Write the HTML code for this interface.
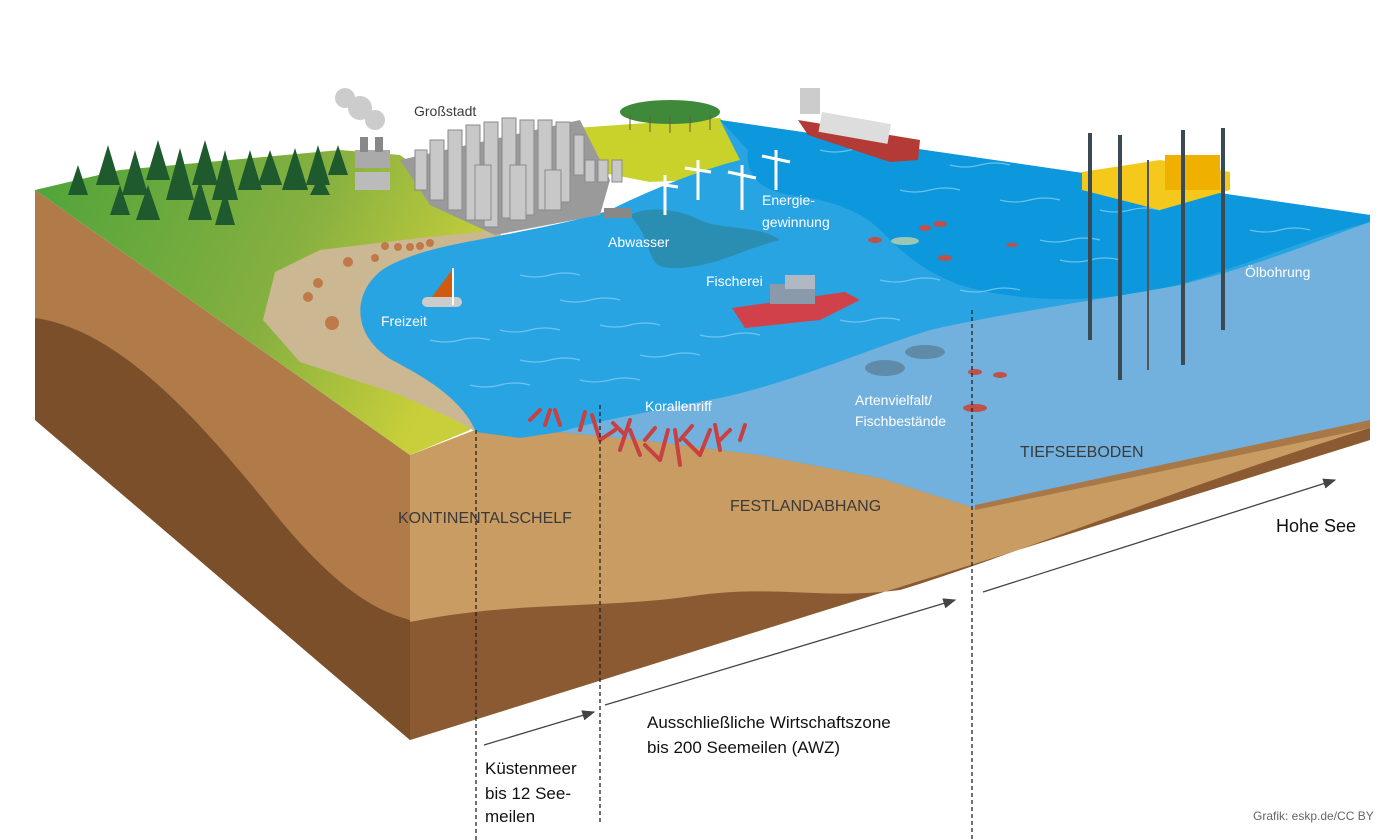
<!DOCTYPE html>
<html><head><meta charset="utf-8"><style>
html,body{margin:0;padding:0;background:#fff;}
svg{display:block;font-family:"Liberation Sans",sans-serif;}
.w{fill:#fff;font-size:14px;}
.d{fill:#3a3a3a;font-size:16px;}
.b{fill:#111;font-size:17px;}
</style></head><body>
<svg width="1400" height="840" viewBox="0 0 1400 840" xmlns="http://www.w3.org/2000/svg">
<defs>
<linearGradient id="g" x1="0" y1="0" x2="1" y2="0.3">
<stop offset="0" stop-color="#4ea33a"/><stop offset="0.6" stop-color="#86b040"/><stop offset="1" stop-color="#c9cf3a"/></linearGradient>
<marker id="ar" markerWidth="10" markerHeight="8" refX="9" refY="4" orient="auto"><path d="M0,0 L10,4 L0,8 Z" fill="#444"/></marker>
</defs>
<!-- left face -->
<polygon points="35,190 410,455 410,740 35,420" fill="#b07b48"/>
<path d="M35,318 C120,330 200,420 280,520 C330,580 370,610 410,620 L410,740 L35,420 Z" fill="#7b4f2a"/>
<!-- front face -->
<polygon points="410,455 475,430 1370,418 1370,440 410,740" fill="#c89c62"/>
<path d="M410,622 C520,600 600,610 700,595 C780,585 820,600 900,590 C1000,560 1200,480 1370,428 L1370,440 L410,740 Z" fill="#8b5a32"/>
<!-- land -->
<path d="M35,190 L120,170 L340,150 L400,155 L500,228 L470,430 L410,455 Z" fill="url(#g)"/>
<!-- sand -->
<path d="M498,230 L420,238 L320,250 L275,272 L263,320 L300,362 L400,395 L455,420 L476,432 L520,430 L540,300 Z" fill="#cbb792"/>
<!-- top right land -->
<path d="M575,128 L720,118 L752,148 L735,178 L650,182 L598,172 L572,150 Z" fill="#c8d22a"/>
<path d="M735,178 L752,148 L760,170 L740,185 Z" fill="#cbb792"/>
<!-- sea -->
<path d="M720,120 L1370,215 L1370,420 L975,508 L880,478 L760,455 L640,440 L560,432 L520,438 L476,432 C462,400 430,380 392,360 C350,335 352,290 385,268 C420,248 470,242 498,236 C540,228 580,220 610,210 C650,190 700,170 740,160 L720,120 Z" fill="#29a4e2"/>
<path d="M720,120 L1370,215 L1370,222 C1300,240 1250,265 1160,290 C1080,305 1010,300 960,285 C920,270 900,250 880,230 C860,210 830,200 790,195 C760,190 745,175 748,150 Z" fill="#0d97dc"/>
<!-- deep -->
<path d="M1370,222 L1370,420 L975,508 L880,478 L760,455 L640,440 L560,432 C600,420 660,410 720,398 C800,380 860,352 930,330 C1020,310 1100,300 1180,285 C1260,265 1320,240 1370,222 Z" fill="#72b1dd"/>
<path d="M1370,420 L1370,428 L975,510 L975,505 Z" fill="#a87848"/>
<!-- waves -->
<g stroke="#7fcdf2" stroke-width="1.2" fill="none" opacity="0.8">
<path d="M520,275 q15,4 30,0 t30,0"/><path d="M560,300 q15,4 30,0 t30,0"/><path d="M430,340 q15,4 30,0 t30,0"/><path d="M500,330 q15,4 30,0 t30,0"/><path d="M600,325 q15,4 30,0 t30,0"/><path d="M520,360 q15,4 30,0 t30,0"/><path d="M640,355 q15,4 30,0 t30,0"/><path d="M470,385 q15,4 30,0 t30,0"/><path d="M580,380 q15,4 30,0 t30,0"/><path d="M700,335 q15,4 30,0 t30,0"/><path d="M840,320 q15,4 30,0 t30,0"/><path d="M880,280 q15,4 30,0 t30,0"/><path d="M960,290 q15,4 30,0 t30,0"/><path d="M1060,260 q15,4 30,0 t30,0"/><path d="M1000,200 q15,4 30,0 t30,0"/><path d="M900,190 q15,4 30,0 t30,0"/><path d="M1100,210 q15,4 30,0 t30,0"/><path d="M1250,230 q15,4 30,0 t30,0"/><path d="M820,150 q15,4 30,0 t30,0"/><path d="M950,165 q15,4 30,0 t30,0"/><path d="M1040,240 q15,4 30,0 t30,0"/>
</g>
<!-- abwasser plume -->
<path d="M630,215 C660,250 640,270 680,268 C720,265 740,250 780,240 C760,225 720,230 700,220 C680,210 650,205 630,215 Z" fill="#2c7f93" opacity="0.6"/>
<rect x="604" y="208" width="28" height="10" fill="#888"/>
<!-- trees -->
<g fill="#1f5a2e">
<polygon points="78,165 68,195 88,195"/><polygon points="108,145 96,185 120,185"/><polygon points="135,150 122,195 148,195"/><polygon points="158,140 146,180 170,180"/><polygon points="180,148 166,200 194,200"/><polygon points="205,140 192,185 218,185"/><polygon points="225,150 212,200 238,200"/><polygon points="250,150 238,190 262,190"/><polygon points="270,150 258,185 282,185"/><polygon points="295,148 282,190 308,190"/><polygon points="318,145 306,185 330,185"/><polygon points="338,145 328,175 348,175"/><polygon points="120,185 110,215 130,215"/><polygon points="148,185 136,220 160,220"/><polygon points="200,180 188,220 212,220"/><polygon points="225,190 215,225 235,225"/><polygon points="320,175 310,195 330,195"/>
</g>
<g fill="#3e8a3a"><ellipse cx="670" cy="112" rx="50" ry="12"/></g>
<g stroke="#6b5a3a" stroke-width="1"><line x1="630" y1="115" x2="630" y2="130"/><line x1="650" y1="115" x2="650" y2="132"/><line x1="670" y1="115" x2="670" y2="133"/><line x1="690" y1="115" x2="690" y2="132"/><line x1="710" y1="115" x2="710" y2="130"/></g>
<!-- factory -->
<rect x="355" y="150" width="35" height="18" fill="#aaa"/><rect x="360" y="137" width="8" height="15" fill="#888"/><rect x="375" y="137" width="8" height="15" fill="#888"/>
<g fill="#ccc"><circle cx="345" cy="98" r="10"/><circle cx="360" cy="108" r="12"/><circle cx="375" cy="120" r="10"/></g>
<rect x="355" y="172" width="35" height="18" fill="#bbb"/>
<!-- city -->
<polygon points="400,160 580,120 610,180 600,215 495,235 430,205" fill="#9a9a9a"/>
<g fill="#c8c8c8" stroke="#8a8a8a" stroke-width="1">
<rect x="415" y="150" width="12" height="40"/><rect x="430" y="140" width="14" height="60"/><rect x="448" y="130" width="14" height="80"/><rect x="466" y="125" width="14" height="95"/><rect x="484" y="122" width="14" height="105"/><rect x="502" y="118" width="14" height="100"/><rect x="520" y="120" width="14" height="95"/><rect x="538" y="120" width="14" height="90"/><rect x="556" y="122" width="14" height="80"/><rect x="574" y="135" width="10" height="40"/><rect x="585" y="160" width="10" height="22"/><rect x="598" y="160" width="10" height="22"/><rect x="612" y="160" width="10" height="22"/>
<rect x="475" y="165" width="16" height="55"/><rect x="510" y="165" width="16" height="55"/><rect x="545" y="170" width="16" height="40"/>
</g>
<!-- beach people -->
<g fill="#c07a4a"><circle cx="385" cy="246" r="4"/><circle cx="398" cy="247" r="4"/><circle cx="410" cy="247" r="4"/><circle cx="420" cy="246" r="4"/><circle cx="430" cy="243" r="4"/><circle cx="375" cy="258" r="4"/><circle cx="348" cy="262" r="5"/><circle cx="318" cy="283" r="5"/><circle cx="308" cy="297" r="5"/><circle cx="332" cy="323" r="7"/></g>
<!-- sailboat -->
<rect x="422" y="297" width="40" height="10" rx="5" fill="#ccc"/>
<polygon points="452,270 452,297 432,297" fill="#d15a10"/><line x1="453" y1="268" x2="453" y2="305" stroke="#fff" stroke-width="2"/>
<!-- turbines -->
<g stroke="#fff" stroke-width="3">
<line x1="665" y1="175" x2="665" y2="215"/><line x1="698" y1="160" x2="698" y2="200"/><line x1="742" y1="165" x2="742" y2="210"/><line x1="776" y1="150" x2="776" y2="190"/>
<line x1="652" y1="183" x2="678" y2="187"/><line x1="685" y1="168" x2="711" y2="172"/><line x1="728" y1="172" x2="756" y2="178"/><line x1="762" y1="156" x2="790" y2="162"/>
</g>
<!-- container ship -->
<polygon points="798,120 920,140 918,160 890,162 808,135" fill="#b33a35"/>
<rect x="822" y="112" width="70" height="20" fill="#ddd" transform="rotate(10 822 112)"/>
<rect x="800" y="88" width="20" height="26" fill="#ccc"/>
<!-- fishing boat -->
<path d="M732,308 L845,292 L860,300 L820,320 L745,328 Z" fill="#d0414a"/>
<rect x="770" y="284" width="45" height="20" fill="#8a9aab"/>
<rect x="785" y="275" width="30" height="14" fill="#b0b8c4"/>
<!-- fish -->
<g fill="#c0504a"><ellipse cx="875" cy="240" rx="7" ry="3"/><ellipse cx="940" cy="224" rx="7" ry="3"/><ellipse cx="945" cy="258" rx="7" ry="3"/><ellipse cx="925" cy="228" rx="6" ry="3"/><ellipse cx="975" cy="372" rx="7" ry="3"/><ellipse cx="1000" cy="375" rx="7" ry="3"/><ellipse cx="975" cy="408" rx="12" ry="4"/><ellipse cx="1012" cy="245" rx="6" ry="2"/></g>
<ellipse cx="905" cy="241" rx="14" ry="4" fill="#9cc7b3"/>
<g fill="#5f8aa8"><ellipse cx="885" cy="368" rx="20" ry="8"/><ellipse cx="925" cy="352" rx="20" ry="7"/></g>
<!-- coral -->
<g stroke="#c84040" stroke-width="4" fill="none" stroke-linecap="round">
<path d="M530,420 l10,-10 M545,425 l5,-15 M560,425 l-5,-15 M580,430 l5,-18 M600,440 l-8,-25 M620,450 l10,-30 M640,455 l-10,-25 M660,460 l8,-30 M680,465 l-5,-35 M700,455 l10,-25 M720,450 l-5,-25 M740,440 l5,-15 M600,440 l15,-10 M660,460 l-15,-15 M700,455 l-15,-15 M625,435 l-12,-12 M680,440 l12,-14 M645,440 l10,-12 M720,440 l10,-10"/>
</g>
<!-- oil rig -->
<polygon points="1082,172 1160,160 1230,172 1230,190 1160,210 1082,190" fill="#f4c91b"/>
<rect x="1165" y="155" width="55" height="35" fill="#f0b000"/>
<g stroke="#3a4a55" stroke-width="4">
<line x1="1090" y1="133" x2="1090" y2="340"/><line x1="1120" y1="135" x2="1120" y2="380"/><line x1="1183" y1="130" x2="1183" y2="365"/><line x1="1223" y1="128" x2="1223" y2="330"/>
</g>
<line x1="1148" y1="160" x2="1148" y2="370" stroke="#555" stroke-width="2"/>
<!-- dashed lines -->
<g stroke="#222" stroke-width="1.3" stroke-dasharray="4,3">
<line x1="476" y1="430" x2="476" y2="840"/><line x1="600" y1="405" x2="600" y2="825"/><line x1="972" y1="310" x2="972" y2="840"/>
</g>
<!-- arrows -->
<g stroke="#444" stroke-width="1.3" marker-end="url(#ar)">
<line x1="484" y1="745" x2="594" y2="712"/><line x1="605" y1="705" x2="955" y2="600"/><line x1="983" y1="592" x2="1335" y2="480"/>
</g>
<!-- labels -->
<text x="414" y="116" class="d" style="font-size:14px">Großstadt</text>
<text x="608" y="247" class="w">Abwasser</text>
<text x="762" y="205" class="w">Energie-</text>
<text x="762" y="227" class="w">gewinnung</text>
<text x="706" y="286" class="w">Fischerei</text>
<text x="381" y="326" class="w">Freizeit</text>
<text x="645" y="411" class="w">Korallenriff</text>
<text x="855" y="405" class="w">Artenvielfalt/</text>
<text x="855" y="426" class="w">Fischbestände</text>
<text x="1245" y="277" class="w">Ölbohrung</text>
<text x="1020" y="457" class="d">TIEFSEEBODEN</text>
<text x="730" y="511" class="d">FESTLANDABHANG</text>
<text x="398" y="523" class="d">KONTINENTALSCHELF</text>
<text x="1276" y="532" class="b" style="font-size:18px">Hohe See</text>
<text x="647" y="728" class="b">Ausschließliche Wirtschaftszone</text>
<text x="647" y="753" class="b">bis 200 Seemeilen (AWZ)</text>
<text x="485" y="774" class="b">Küstenmeer</text>
<text x="485" y="799" class="b">bis 12 See-</text>
<text x="485" y="822" class="b">meilen</text>
<text x="1253" y="820" fill="#666" style="font-size:12px">Grafik: eskp.de/CC BY</text>
</svg>
</body></html>
